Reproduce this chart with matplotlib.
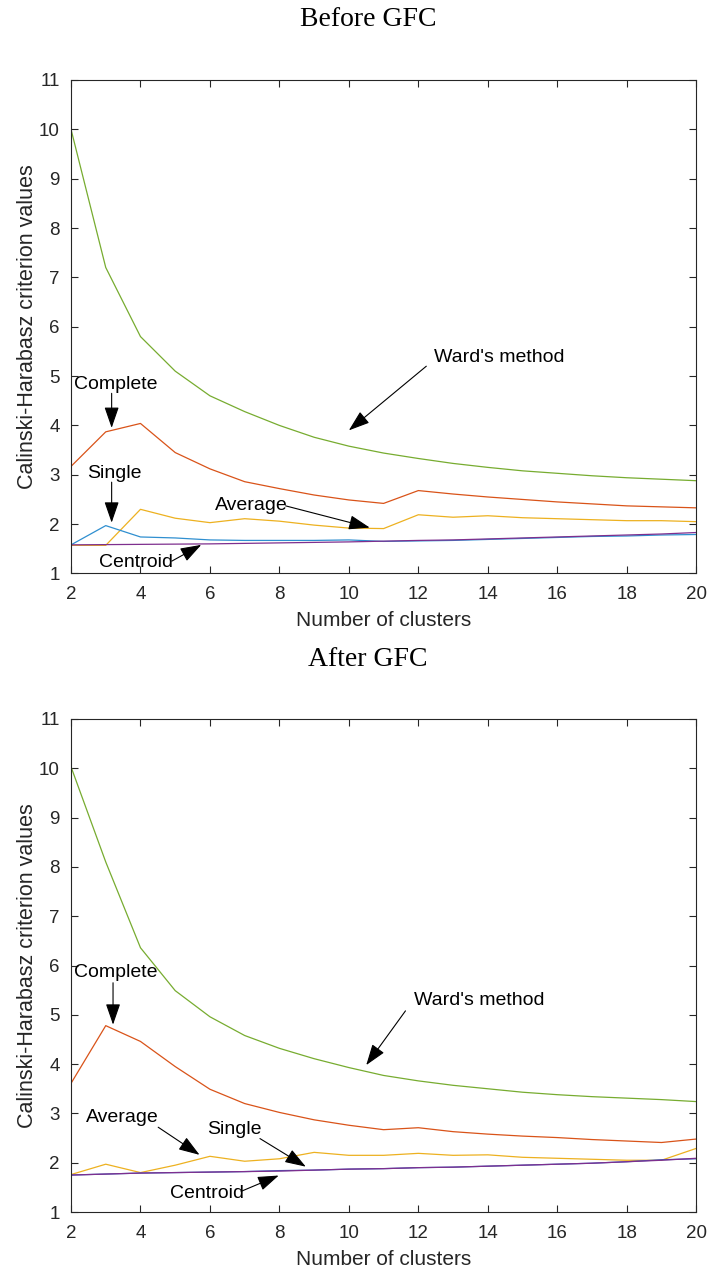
"""
Calinski-Harabasz criterion values vs number of clusters,
before and after GFC, for five linkage methods.
"""
import matplotlib
matplotlib.use("Agg")
import matplotlib.pyplot as plt
import numpy as np

clusters = list(range(2, 21))

# Before GFC
ward_before = [10.0, 7.2, 5.8, 5.1, 4.6, 4.28, 4.0, 3.76, 3.58, 3.44, 3.33, 3.23,
               3.15, 3.08, 3.03, 2.98, 2.94, 2.91, 2.88]
complete_before = [3.17, 3.87, 4.04, 3.45, 3.12, 2.86, 2.72, 2.59, 2.49, 2.42, 2.68,
                   2.61, 2.55, 2.50, 2.45, 2.41, 2.37, 2.35, 2.33]
average_before = [1.57, 1.57, 2.30, 2.12, 2.03, 2.11, 2.06, 1.98, 1.92, 1.91, 2.19,
                  2.14, 2.17, 2.13, 2.11, 2.09, 2.07, 2.07, 2.05]
single_before = [1.58, 1.97, 1.74, 1.72, 1.68, 1.67, 1.67, 1.67, 1.68, 1.65, 1.66,
                 1.67, 1.69, 1.71, 1.73, 1.75, 1.76, 1.78, 1.79]
centroid_before = [1.58, 1.585, 1.59, 1.595, 1.60, 1.61, 1.62, 1.63, 1.64, 1.655,
                   1.67, 1.68, 1.70, 1.72, 1.74, 1.76, 1.78, 1.80, 1.83]

# After GFC
ward_after = [10.03, 8.1, 6.36, 5.49, 4.96, 4.58, 4.32, 4.11, 3.93, 3.77, 3.66, 3.57,
              3.50, 3.43, 3.38, 3.34, 3.31, 3.28, 3.24]
complete_after = [3.61, 4.78, 4.46, 3.95, 3.49, 3.20, 3.02, 2.87, 2.76, 2.67, 2.71,
                  2.63, 2.58, 2.54, 2.51, 2.47, 2.44, 2.41, 2.48]
average_after = [1.76, 1.97, 1.80, 1.95, 2.13, 2.03, 2.08, 2.21, 2.15, 2.15, 2.19,
                 2.15, 2.16, 2.11, 2.09, 2.07, 2.05, 2.05, 2.29]
single_after = [1.75, 1.77, 1.79, 1.80, 1.81, 1.82, 1.84, 1.85, 1.87, 1.88, 1.90,
                1.91, 1.93, 1.95, 1.97, 1.99, 2.02, 2.06, 2.08]
centroid_after = [1.75, 1.77, 1.79, 1.80, 1.81, 1.82, 1.83, 1.85, 1.87, 1.88, 1.90,
                  1.91, 1.93, 1.95, 1.97, 1.99, 2.02, 2.05, 2.09]

# label, text position, arrow tail, arrow head
notes_before = [
    ("Ward's method", (12.45, 5.38), (12.23, 5.2), (10.0, 3.9)),
    ("Complete", (2.1, 4.83), (3.17, 4.65), (3.17, 3.95)),
    ("Single", (2.45, 3.03), (3.17, 2.85), (3.17, 2.03)),
    ("Average", (6.14, 2.37), (8.18, 2.37), (10.6, 1.93)),
    ("Centroid", (2.82, 1.22), (4.9, 1.25), (5.75, 1.58)),
]
notes_after = [
    ("Ward's method", (11.87, 5.29), (11.63, 5.08), (10.5, 3.98)),
    ("Complete", (2.1, 5.85), (3.21, 5.65), (3.21, 4.8)),
    ("Average", (2.43, 2.92), (4.51, 2.72), (5.7, 2.16)),
    ("Single", (5.92, 2.68), (7.44, 2.49), (8.76, 1.92)),
    ("Centroid", (4.84, 1.38), (6.9, 1.42), (7.98, 1.74)),
]

colors = {"ward": "#77AC30", "complete": "#D95319", "average": "#EDB120",
          "single": "#2F8FD0", "centroid": "#7E2F8E"}

plt.rcParams["font.family"] = ["Liberation Sans", "DejaVu Sans"]

fig = plt.figure(figsize=(7.08, 12.73), dpi=100)
ax1 = fig.add_axes([0.1003, 0.5495, 0.883, 0.3877])
ax2 = fig.add_axes([0.1003, 0.0479, 0.883, 0.3873])


def draw(ax, ward, complete, average, single, centroid, notes, single_color):
    ax.plot(clusters, ward, color=colors["ward"], lw=0.9)
    ax.plot(clusters, complete, color=colors["complete"], lw=0.9)
    ax.plot(clusters, average, color=colors["average"], lw=0.9)
    ax.plot(clusters, single, color=single_color, lw=0.9)
    ax.plot(clusters, centroid, color=colors["centroid"], lw=0.9)
    ax.set_xlim(2, 20)
    ax.set_ylim(1, 11)
    ax.set_xticks(range(2, 21, 2))
    ax.set_yticks(range(1, 12))
    ax.tick_params(direction="in", length=5, width=0.8, colors="#262626",
                   labelsize=13.5, top=True, right=True)
    ax.tick_params(axis="x", pad=9)
    ax.tick_params(axis="y", pad=8)
    for s in ax.spines.values():
        s.set_color("#262626")
        s.set_linewidth(0.8)
    ax.set_xlabel("Number of clusters", fontsize=15, color="#262626", labelpad=6)
    ax.set_ylabel("Calinski-Harabasz criterion values", fontsize=15.5,
                  color="#262626", labelpad=1)
    for label, txt, tail, head in notes:
        ax.text(txt[0], txt[1], label, fontsize=14, ha="left", va="center",
                color="black")
        ax.annotate("", xy=head, xytext=tail,
                    arrowprops=dict(arrowstyle="-|>,head_length=1.3,head_width=0.45",
                                    color="black", lw=0.8, shrinkA=0, shrinkB=0))


draw(ax1, ward_before, complete_before, average_before, single_before,
     centroid_before, notes_before, colors["single"])
draw(ax2, ward_after, complete_after, average_after, single_after,
     centroid_after, notes_after, "#3060C0")

fig.text(368 / 708, 1 - 19 / 1273, "Before GFC", ha="center", va="center",
         fontsize=20, family="Liberation Serif")
fig.text(368 / 708, 1 - 659 / 1273, "After GFC", ha="center", va="center",
         fontsize=20, family="Liberation Serif")

fig.savefig("out.png", dpi=100)
